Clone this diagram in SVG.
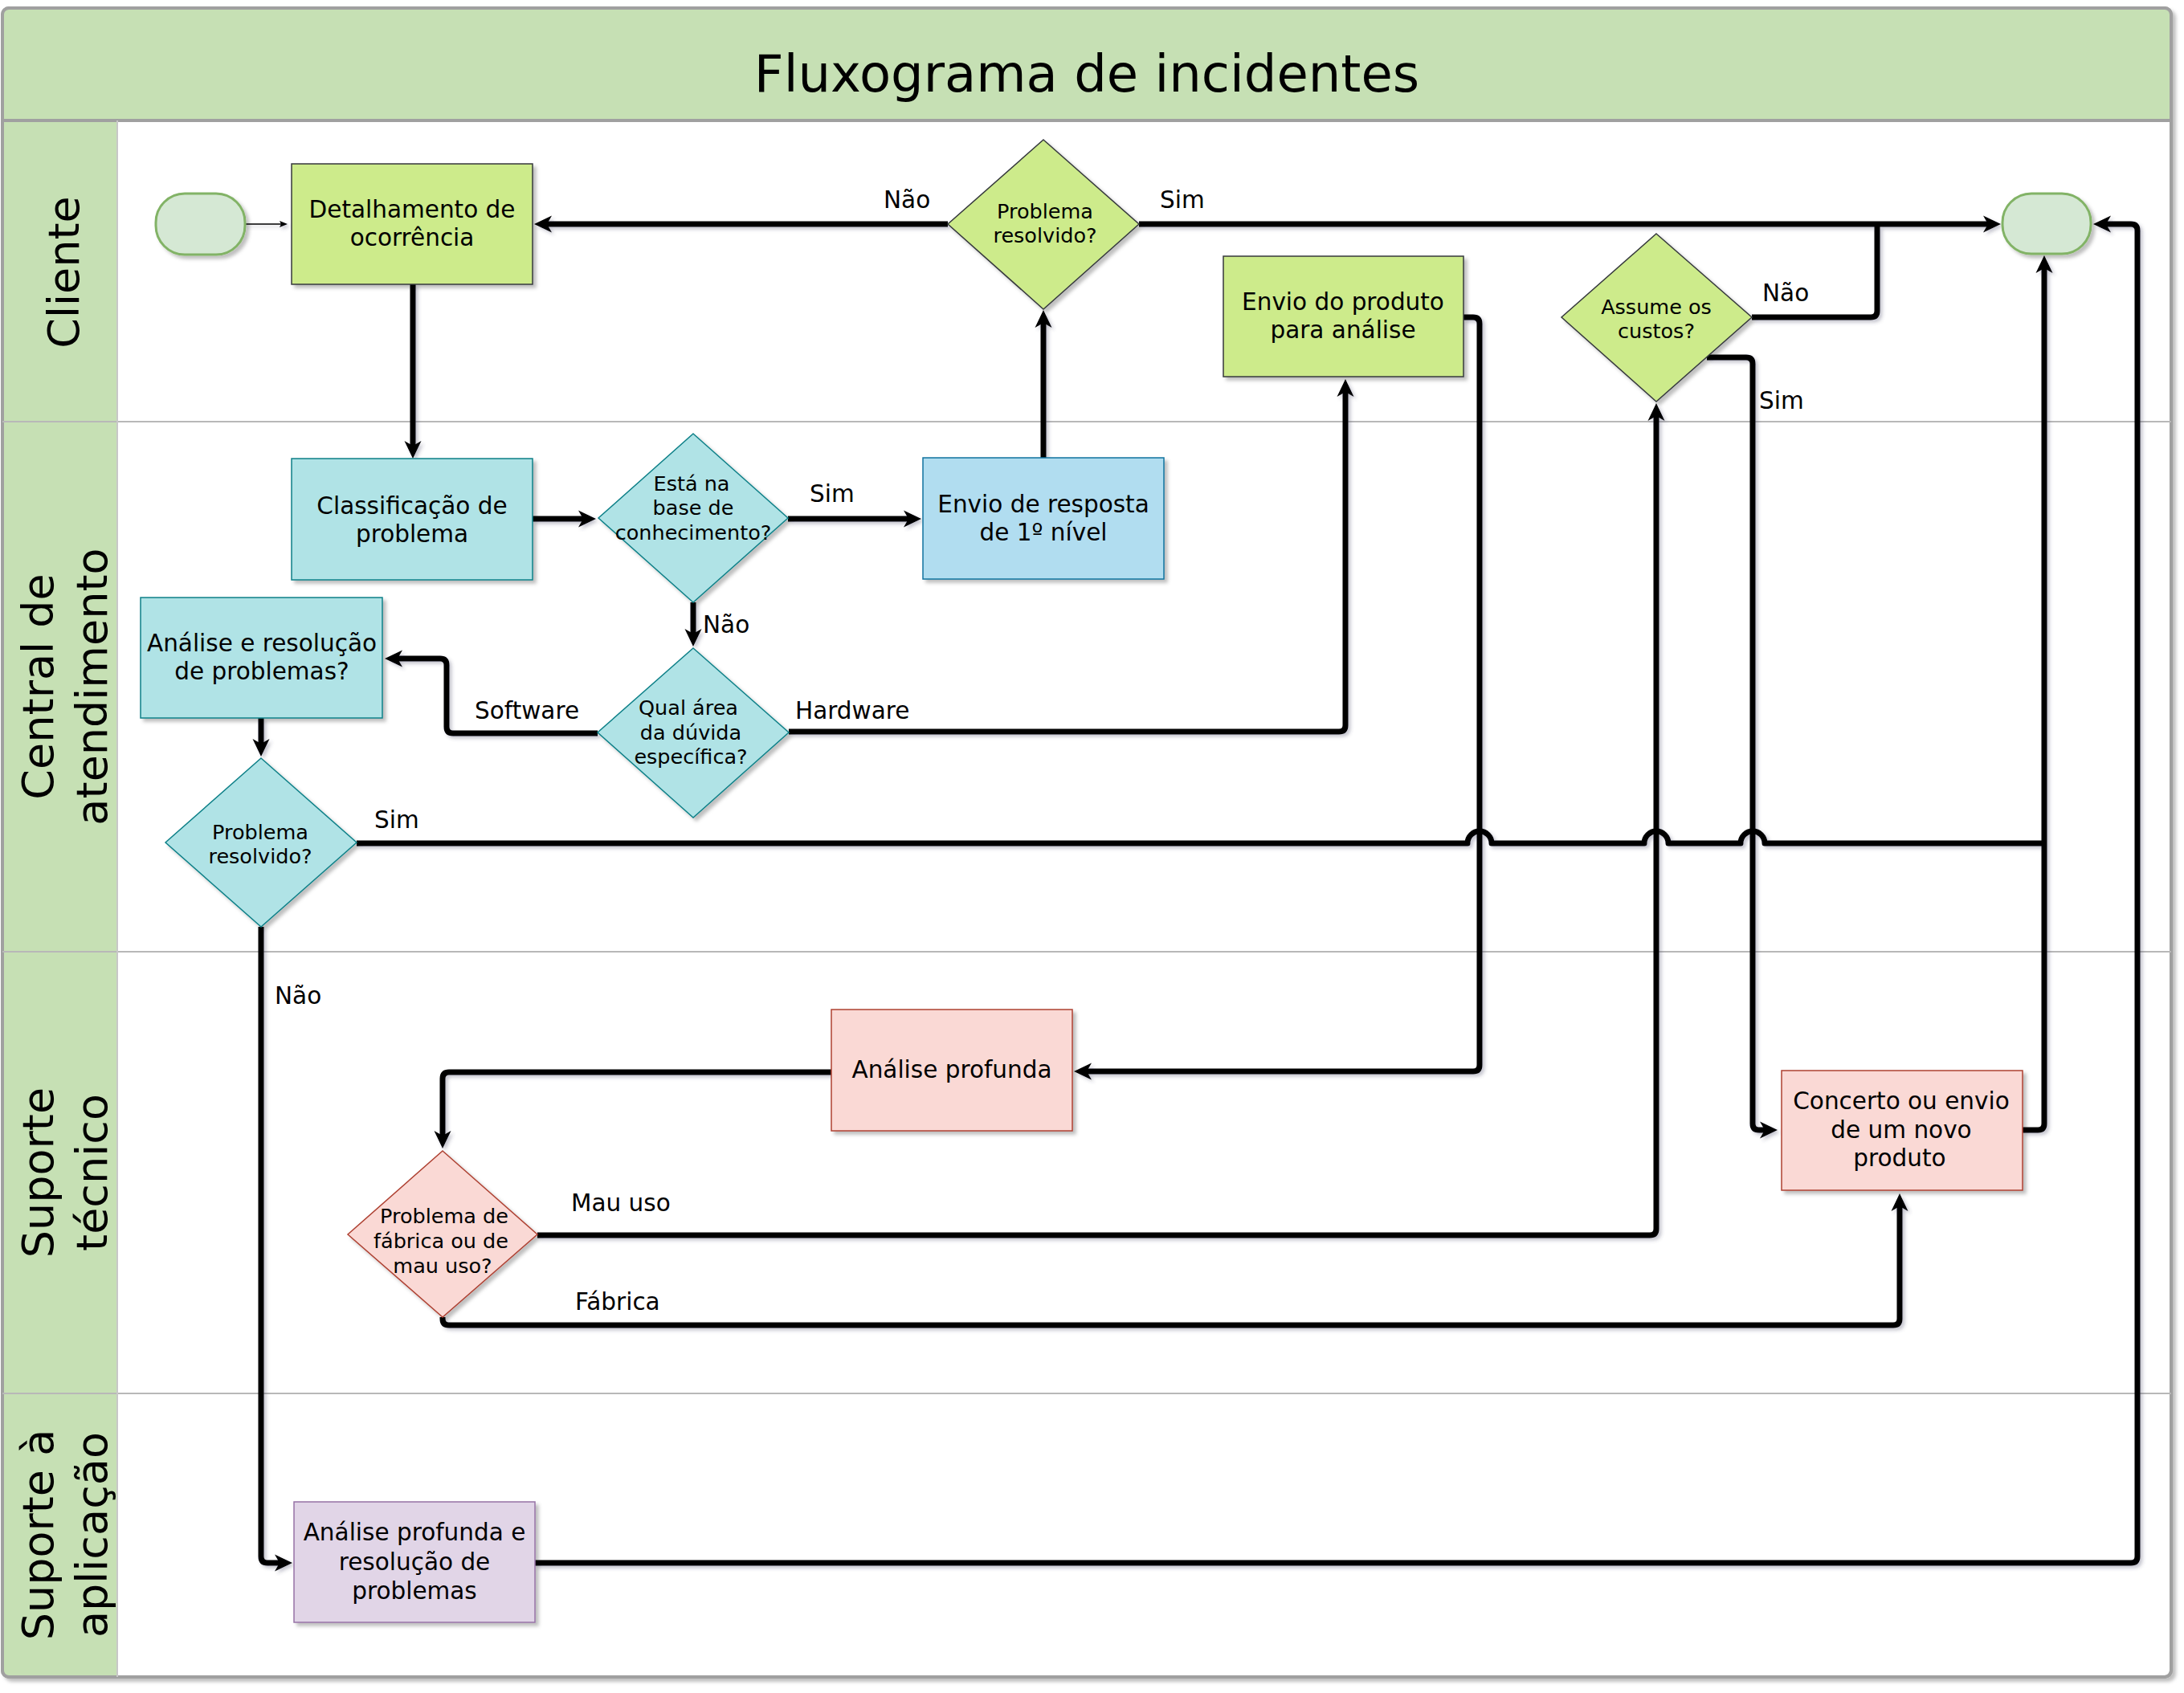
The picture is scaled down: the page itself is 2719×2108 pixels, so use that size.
<svg xmlns="http://www.w3.org/2000/svg" width="2719" height="2108" viewBox="0 0 2719 2108">
<defs>
<style>
text{font-family:"DejaVu Sans",Verdana,sans-serif;fill:#000}
.title{font-size:64px;text-anchor:middle}
.lane{font-size:54px;text-anchor:middle}
.nt{font-size:29.5px;text-anchor:middle}
.dt{font-size:25.5px;text-anchor:middle}
.lbl{font-size:29.5px}
.edge{fill:none;stroke:#000;stroke-width:7;stroke-linejoin:round;marker-end:url(#arr)}
.edge.noarr{marker-end:none}
.sep{stroke:#b8b8b8;stroke-width:2}
.green{fill:#cdeb8b;stroke:#36393d;stroke-width:1.5}
.teal{fill:#b0e3e6;stroke:#0e8088;stroke-width:1.5}
.blue{fill:#b1ddf0;stroke:#10739e;stroke-width:1.5}
.pink{fill:#fad9d5;stroke:#ae4132;stroke-width:1.5}
.purple{fill:#e1d5e7;stroke:#9673a6;stroke-width:1.5}
.term{fill:#d5e8d4;stroke:#82b366;stroke-width:3}
</style>
<filter id="sh" x="-10%" y="-10%" width="130%" height="130%">
<feDropShadow dx="4" dy="4" stdDeviation="2" flood-color="#000" flood-opacity="0.25"/>
</filter>
<filter id="lsh" x="-5%" y="-5%" width="110%" height="110%">
<feDropShadow dx="3" dy="3" stdDeviation="2" flood-color="#404060" flood-opacity="0.3"/>
</filter>
<marker id="arr" viewBox="0 -11 24 22" markerWidth="24" markerHeight="22" refX="6" refY="0" orient="auto" markerUnits="userSpaceOnUse">
<path d="M0,-10.5 L22,0 L0,10.5 L6,0 Z" fill="#000"/>
</marker>
<marker id="arrs" viewBox="0 -5 12 10" markerWidth="12" markerHeight="10" refX="2" refY="0" orient="auto" markerUnits="userSpaceOnUse">
<path d="M0,-4 L10,0 L0,4 L2,0 Z" fill="#000"/>
</marker>
</defs>

<g id="frame">
<rect x="3" y="10" width="2700" height="2078" rx="8" fill="#fff" stroke="#a0a0a0" stroke-width="4" filter="url(#sh)"/>
<path d="M3,150 V18 Q3,10 11,10 H2695 Q2703,10 2703,18 V150 Z" fill="#c6e0b4"/>
<rect x="3" y="150" width="143" height="1936" fill="#c6e0b4"/>
<rect x="3" y="10" width="2700" height="2078" rx="8" fill="none" stroke="#a0a0a0" stroke-width="4"/>
<line x1="3" y1="150" x2="2703" y2="150" stroke="#a0a0a0" stroke-width="4"/>
<line class="sep" x1="3" y1="525" x2="2703" y2="525"/>
<line class="sep" x1="3" y1="1185" x2="2703" y2="1185"/>
<line class="sep" x1="3" y1="1735" x2="2703" y2="1735"/>
<line x1="146" y1="150" x2="146" y2="2088" stroke="#c8c8c8" stroke-width="2"/>
<text class="title" x="1353" y="114">Fluxograma de incidentes</text>
<text class="lane" transform="rotate(-90 98 339)" x="98" y="339">Cliente</text>
<text class="lane" transform="rotate(-90 66 855)" x="66" y="855">Central de</text>
<text class="lane" transform="rotate(-90 133 855)" x="133" y="855">atendimento</text>
<text class="lane" transform="rotate(-90 66 1460)" x="66" y="1460">Suporte</text>
<text class="lane" transform="rotate(-90 133 1460)" x="133" y="1460">técnico</text>
<text class="lane" transform="rotate(-90 66 1911)" x="66" y="1911">Suporte à</text>
<text class="lane" transform="rotate(-90 133 1911)" x="133" y="1911">aplicação</text>
</g>

<g id="connectors">
<g filter="url(#lsh)">
<path d="M305,279 L350,279" fill="none" stroke="#000" stroke-width="1.5" marker-end="url(#arrs)"/>
<path class="edge" d="M514,354 L514,555"/>
<path class="edge" d="M663,646 L726,646"/>
<path class="edge" d="M981,646 L1131,646"/>
<path class="edge" d="M1299,570 L1299,402"/>
<path class="edge" d="M1180,279 L681,279"/>
<path class="edge" d="M1418,279 L2475,279"/>
<path class="edge" d="M863,750 L863,789"/>
<path class="edge" d="M744,913 L564,913 Q556,913 556,905 L556,828 Q556,820 548,820 L495,820"/>
<path class="edge" d="M982,911 L1667,911 Q1675,911 1675,903 L1675,488"/>
<path class="edge" d="M325,894 L325,926"/>
<path class="edge noarr" d="M444,1050 L1827,1050 A15,15 0 0 1 1857,1050 L2047,1050 A15,15 0 0 1 2077,1050 L2167,1050 A15,15 0 0 1 2197,1050 L2545,1050"/>
<path class="edge" d="M325,1154 L325,1938 Q325,1946 333,1946 L348,1946"/>
<path class="edge" d="M666,1946 L2653,1946 Q2661,1946 2661,1938 L2661,287 Q2661,279 2653,279 L2622,279"/>
<path class="edge" d="M1822,395 L1834,395 Q1842,395 1842,403 L1842,1326 Q1842,1334 1834,1334 L1353,1334"/>
<path class="edge" d="M1035,1335 L559,1335 Q551,1335 551,1343 L551,1414"/>
<path class="edge" d="M669,1538 L2054,1538 Q2062,1538 2062,1530 L2062,518"/>
<path class="edge" d="M551,1640 L551,1642 Q551,1650 559,1650 L2357,1650 Q2365,1650 2365,1642 L2365,1502"/>
<path class="edge noarr" d="M2181,395 L2329,395 Q2337,395 2337,387 L2337,279"/>
<path class="edge" d="M2125,445 L2174,445 Q2182,445 2182,453 L2182,1399 Q2182,1407 2190,1407 L2197,1407"/>
<path class="edge" d="M2518,1407 L2537,1407 Q2545,1407 2545,1399 L2545,334"/>
</g>
<text class="lbl" x="1100" y="259">Não</text>
<text class="lbl" x="1444" y="259">Sim</text>
<text class="lbl" x="1008" y="625">Sim</text>
<text class="lbl" x="875" y="788">Não</text>
<text class="lbl" x="591" y="895">Software</text>
<text class="lbl" x="990" y="895">Hardware</text>
<text class="lbl" x="466" y="1031">Sim</text>
<text class="lbl" x="342" y="1250">Não</text>
<text class="lbl" x="711" y="1508">Mau uso</text>
<text class="lbl" x="716" y="1631">Fábrica</text>
<text class="lbl" x="2194" y="375">Não</text>
<text class="lbl" x="2190" y="509">Sim</text>
</g>

<g id="start">
<rect class="term" x="194" y="241" width="111" height="76" rx="36" ry="36" filter="url(#sh)"/>
</g>
<g id="end">
<rect class="term" x="2493" y="241" width="110" height="75" rx="36" ry="36" filter="url(#sh)"/>
</g>

<g id="detalhamento">
<rect class="green" x="363" y="204" width="300" height="150" filter="url(#sh)"/>
<text class="nt" x="513" y="271">Detalhamento de</text>
<text class="nt" x="513" y="306">ocorrência</text>
</g>

<g id="problema-resolvido-cliente">
<polygon class="green" points="1299,174 1418,279 1299,385 1180,279" filter="url(#sh)"/>
<text class="dt" x="1301" y="272">Problema</text>
<text class="dt" x="1301" y="302">resolvido?</text>
</g>

<g id="envio-produto">
<rect class="green" x="1523" y="319" width="299" height="150" filter="url(#sh)"/>
<text class="nt" x="1672" y="386">Envio do produto</text>
<text class="nt" x="1672" y="421">para análise</text>
</g>

<g id="assume-custos">
<polygon class="green" points="2062,291 2181,395 2062,500 1944,395" filter="url(#sh)"/>
<text class="dt" x="2062" y="391">Assume os</text>
<text class="dt" x="2062" y="421">custos?</text>
</g>

<g id="classificacao">
<rect class="teal" x="363" y="571" width="300" height="151" filter="url(#sh)"/>
<text class="nt" x="513" y="640">Classificação de</text>
<text class="nt" x="513" y="675">problema</text>
</g>

<g id="base-conhecimento">
<polygon class="teal" points="863,540 981,645 863,750 745,645" filter="url(#sh)"/>
<text class="dt" x="861" y="611">Está na</text>
<text class="dt" x="863" y="641">base de</text>
<text class="dt" x="863" y="672">conhecimento?</text>
</g>

<g id="envio-resposta">
<rect class="blue" x="1149" y="570" width="300" height="151" filter="url(#sh)"/>
<text class="nt" x="1299" y="638">Envio de resposta</text>
<text class="nt" x="1299" y="673">de 1º nível</text>
</g>

<g id="qual-area">
<polygon class="teal" points="863,807 982,912 863,1018 744,912" filter="url(#sh)"/>
<text class="dt" x="857" y="890">Qual área</text>
<text class="dt" x="860" y="921">da dúvida</text>
<text class="dt" x="860" y="951">específica?</text>
</g>

<g id="analise-resolucao">
<rect class="teal" x="175" y="744" width="301" height="150" filter="url(#sh)"/>
<text class="nt" x="326" y="811">Análise e resolução</text>
<text class="nt" x="326" y="846">de problemas?</text>
</g>

<g id="problema-resolvido-central">
<polygon class="teal" points="325,944 444,1049 325,1154 206,1049" filter="url(#sh)"/>
<text class="dt" x="324" y="1045">Problema</text>
<text class="dt" x="324" y="1075">resolvido?</text>
</g>

<g id="analise-profunda">
<rect class="pink" x="1035" y="1257" width="300" height="151" filter="url(#sh)"/>
<text class="nt" x="1185" y="1342">Análise profunda</text>
</g>

<g id="fabrica-mau-uso">
<polygon class="pink" points="551,1433 669,1537 551,1640 433,1537" filter="url(#sh)"/>
<text class="dt" x="553" y="1523">Problema de</text>
<text class="dt" x="549" y="1554">fábrica ou de</text>
<text class="dt" x="551" y="1585">mau uso?</text>
</g>

<g id="concerto">
<rect class="pink" x="2218" y="1333" width="300" height="149" filter="url(#sh)"/>
<text class="nt" x="2367" y="1381">Concerto ou envio</text>
<text class="nt" x="2367" y="1417">de um novo</text>
<text class="nt" x="2365" y="1452">produto</text>
</g>

<g id="analise-profunda-resolucao">
<rect class="purple" x="366" y="1870" width="300" height="150" filter="url(#sh)"/>
<text class="nt" x="516" y="1918">Análise profunda e</text>
<text class="nt" x="516" y="1955">resolução de</text>
<text class="nt" x="516" y="1991">problemas</text>
</g>
</svg>
